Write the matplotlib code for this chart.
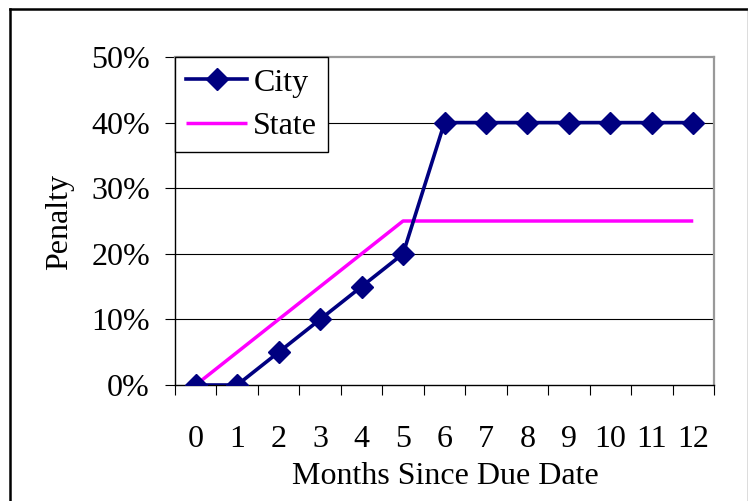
import matplotlib
matplotlib.use("Agg")
import matplotlib.pyplot as plt
from matplotlib.lines import Line2D
from matplotlib.ticker import FixedLocator, FuncFormatter

months = list(range(13))
month_labels = [str(m) for m in months]
city_penalty = [0, 0, 5, 10, 15, 20, 40, 40, 40, 40, 40, 40, 40]
state_penalty = [0, 5, 10, 15, 20, 25, 25, 25, 25, 25, 25, 25, 25]
y_ticks = [0, 10, 20, 30, 40, 50]

FS = 23
plt.rcParams["font.family"] = ["Liberation Serif", "DejaVu Serif"]
plt.rcParams["font.size"] = FS

W, H = 748, 501
fig = plt.figure(figsize=(W / 100, H / 100), dpi=100)
fig.patch.set_facecolor("white")

def px(x0, y0, x1, y1):
    return [x0 / W, 1 - y1 / H, (x1 - x0) / W, (y1 - y0) / H]

ax = fig.add_axes(px(175, 57, 714, 385))

ax.plot(months, state_penalty, color="#FF00FF", lw=2.5, label="State", zorder=3,
        solid_capstyle="butt")
ax.plot(months, city_penalty, color="#000080", lw=2.6, marker="D", markersize=11.5,
        markerfacecolor="#000080", markeredgecolor="#000080", label="City", zorder=4)

ax.set_xlim(-0.5, 12.5)
ax.set_ylim(0, 50)

ax.set_yticks(y_ticks)
ax.yaxis.set_major_formatter(FuncFormatter(lambda v, p: f"{int(v)}%"))
ax.tick_params(axis="y", direction="out", length=7, width=0.8, pad=11, color="black",
               labelsize=FS)

ax.set_xticks(months)
ax.set_xticklabels(month_labels)
ax.xaxis.set_minor_locator(FixedLocator([m - 0.5 for m in months] + [12.5]))
ax.tick_params(axis="x", which="major", length=0, pad=29, labelsize=FS)
ax.tick_params(axis="x", which="minor", direction="out", length=7, width=0.8, color="black")

for y in y_ticks[1:-1]:
    ax.axhline(y, color="black", lw=0.8, zorder=1)

for side in ("left", "bottom"):
    ax.spines[side].set_color("black")
    ax.spines[side].set_linewidth(1.0)
for side in ("top", "right"):
    ax.spines[side].set_color("#999999")
    ax.spines[side].set_linewidth(1.6)

handles, labels = ax.get_legend_handles_labels()
order = [labels.index("City"), labels.index("State")]
leg = ax.legend([handles[i] for i in order], [labels[i] for i in order],
                loc="upper left", bbox_to_anchor=(0, 1), borderaxespad=0,
                fancybox=False, framealpha=1, edgecolor="black",
                handlelength=1.9, handletextpad=0.2, borderpad=0.35,
                labelspacing=0.45, fontsize=FS)
leg.get_frame().set_linewidth(1.0)
leg.set_zorder(5)

fig.text(60 / W, 1 - 222 / H, "Penalty", rotation=90, ha="center", va="center", fontsize=FS)
fig.text(445 / W, 1 - 476 / H, "Months Since Due Date", ha="center", va="center", fontsize=FS)

# chart-area frame
fig.add_artist(Line2D([10 / W, 10 / W], [0, 1 - 9 / H], transform=fig.transFigure,
                      color="black", lw=1.8))
fig.add_artist(Line2D([10 / W, 747.5 / W], [1 - 9 / H, 1 - 9 / H], transform=fig.transFigure,
                      color="black", lw=1.8))
fig.add_artist(Line2D([747.5 / W, 747.5 / W], [0, 1 - 9 / H], transform=fig.transFigure,
                      color="#555555", lw=1.0))

fig.savefig("out.png", dpi=100, facecolor="white")
